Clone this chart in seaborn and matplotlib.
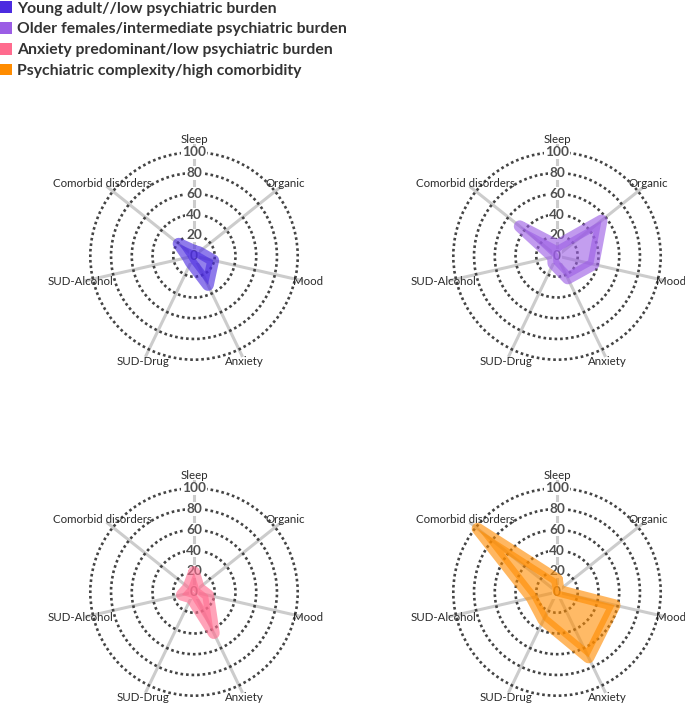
import numpy as np
import matplotlib.pyplot as plt
import seaborn as sns
from matplotlib.patches import Patch

# Domains on the radar axes (clockwise from the top)
categories = ['Sleep', 'Organic', 'Mood', 'Anxiety', 'SUD-Drug', 'SUD-Alcohol', 'Comorbid disorders']

# Cluster profiles (% of patients per domain)
cluster_names = ['Young adult//low psychiatric burden',
                 'Older females/intermediate psychiatric burden',
                 'Anxiety predominant/low psychiatric burden',
                 'Psychiatric complexity/high comorbidity']
young_low = [5, 6, 19, 31, 7, 6, 19]
older_females = [10, 55, 36, 24, 8, 4, 46]
anxiety_low = [19, 6, 14, 44, 6, 12, 7]
complex_high = [12, 2, 57, 70, 30, 25, 98]
cluster_values = [young_low, older_females, anxiety_low, complex_high]

cluster_colors = ['#4b2be0', '#9b5de5', '#ff6b8e', '#ff8c00']
radial_ticks = [0, 20, 40, 60, 80, 100]

sns.set_theme(style='white')
plt.rcParams['font.family'] = ['Lato', 'DejaVu Sans']

fig = plt.figure(figsize=(6.85, 7.04), dpi=100)

# axes boxes in pixels (left, bottom, size) -> figure fractions
W, H = 685, 704
boxes = [(82, 336), (445, 336), (82, 0), (445, 0)]
size = 224

theta = 2 * np.pi * np.arange(len(categories)) / len(categories)
theta_closed = np.append(theta, theta[0])

for (left, bottom), vals, color in zip(boxes, cluster_values, cluster_colors):
    ax = fig.add_axes([left / W, bottom / H, size / W, size / H], projection='polar')
    ax.set_theta_offset(np.pi / 2)
    ax.set_theta_direction(-1)
    ax.set_ylim(0, 108)
    ax.set_facecolor('none')
    ax.spines['polar'].set_visible(False)

    ax.set_xticks(theta)
    ax.set_xticklabels([])
    ax.set_yticks(radial_ticks[1:])
    ax.set_yticklabels([])
    ax.xaxis.grid(True, color='#cccccc', linewidth=2.2)
    ax.yaxis.grid(True, color='#444444', linewidth=1.9, linestyle=(0, (1, 1.1)))
    ax.set_axisbelow(True)

    for t, cat in zip(theta, categories):
        ax.text(t, 112.5, cat, ha='center', va='center', fontsize=8.3,
                color='#2a2a2a', clip_on=False, zorder=3)

    for v in radial_ticks:
        ax.text(0, v, str(v), ha='center', va='center', fontsize=9.8,
                fontweight='bold', color='#505050', zorder=1.5,
                bbox=dict(facecolor='white', edgecolor='none', pad=0.5))

    vals_closed = np.append(vals, vals[0])
    ax.fill(theta_closed, vals_closed, color=color, alpha=0.6, lw=0, zorder=2)
    ax.plot(theta_closed, vals_closed, color=color, alpha=0.62, lw=8.5,
            solid_joinstyle='round', solid_capstyle='round', zorder=2.1, clip_on=False)

handles = [Patch(facecolor=c, edgecolor='none') for c in cluster_colors]
fig.legend(handles, cluster_names, loc='upper left', bbox_to_anchor=(0, 0.998),
           frameon=False, borderaxespad=0, borderpad=0, handlelength=0.75,
           handleheight=0.75, handletextpad=0.35, labelspacing=0.42,
           prop={'weight': 'bold', 'size': 11.3}, labelcolor='#333333')

fig.savefig('out.png', dpi=100)
